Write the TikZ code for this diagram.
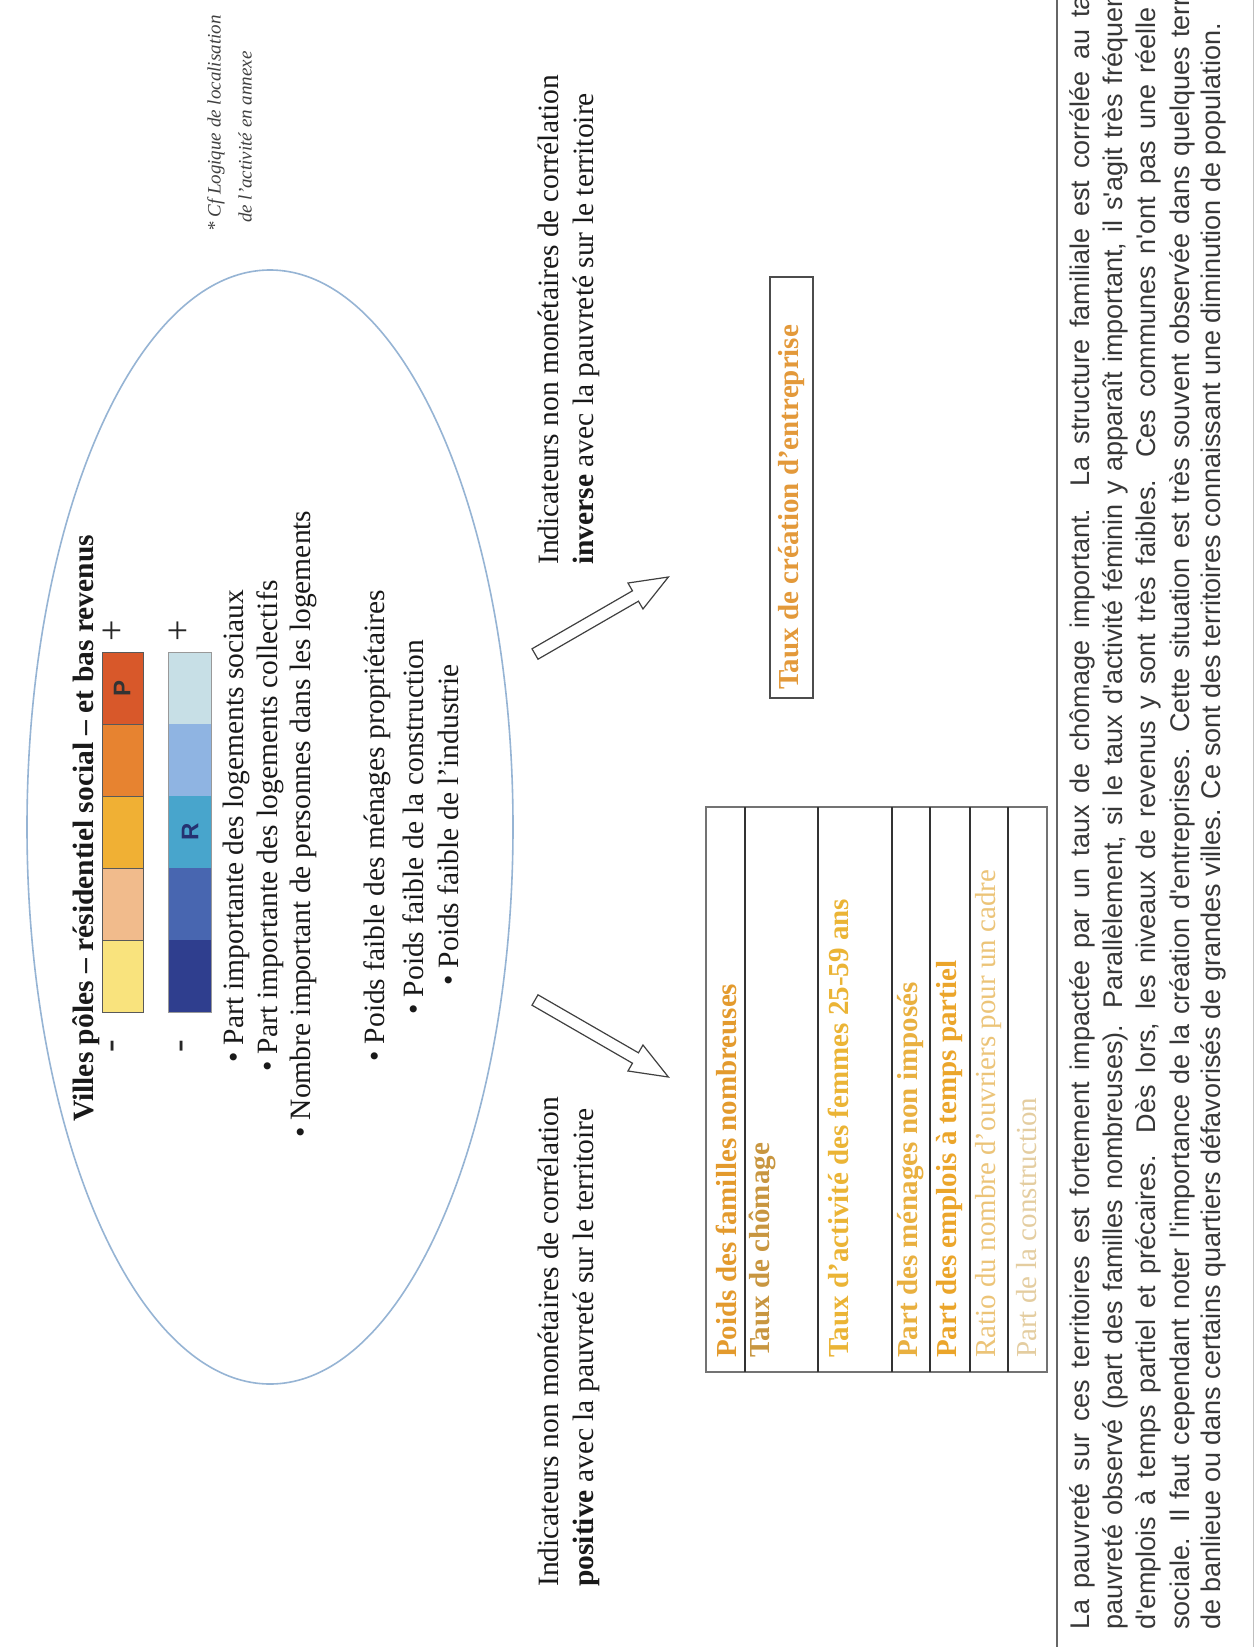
\documentclass[tikz,border=0pt]{standalone}
\usepackage{fontspec}
\setmainfont{Liberation Serif}
\newfontfamily\parafont{Liberation Sans}
\definecolor{ellc}{RGB}{150,180,212}
\definecolor{wa}{RGB}{249,227,125}
\definecolor{wb}{RGB}{241,187,140}
\definecolor{wc}{RGB}{240,176,52}
\definecolor{wd}{RGB}{231,131,48}
\definecolor{we}{RGB}{216,88,42}
\definecolor{ba}{RGB}{47,62,142}
\definecolor{bb}{RGB}{72,102,176}
\definecolor{bc}{RGB}{72,165,204}
\definecolor{bd}{RGB}{143,180,226}
\definecolor{be}{RGB}{199,223,230}
\definecolor{ta}{RGB}{227,154,45}
\definecolor{tb}{RGB}{200,150,64}
\definecolor{tc}{RGB}{235,180,53}
\definecolor{td}{RGB}{233,176,64}
\definecolor{te}{RGB}{235,165,42}
\definecolor{tf}{RGB}{236,196,120}
\definecolor{tg}{RGB}{228,205,160}
\definecolor{th}{RGB}{227,153,58}
\begin{document}
\begin{tikzpicture}[x=1pt,y=-1pt,
  rt/.style={rotate=90,inner sep=0pt,anchor=west},
  body/.style={font=\fontsize{29.5}{34}\selectfont,text=black!90},
  bodyb/.style={font=\bfseries\fontsize{29.5}{34}\selectfont,text=black!90},
  sign/.style={rotate=90,inner sep=0pt,anchor=center,font=\fontsize{38}{40}\selectfont,text=black!85},
  barcell/.style={draw=black!65,line width=0.8pt},
  letter/.style={rotate=90,inner sep=0pt,anchor=center,font=\parafont\bfseries\fontsize{24}{26}\selectfont},
  tbl/.style={rotate=90,inner sep=0pt,anchor=west,font=\bfseries\fontsize{29}{32}\selectfont},
  tblr/.style={rotate=90,inner sep=0pt,anchor=west,font=\fontsize{29}{32}\selectfont},
  para/.style={rotate=90,inner sep=0pt,anchor=west,font=\parafont\fontsize{27}{33}\selectfont,text=black!78},
  note/.style={rotate=90,inner sep=0pt,anchor=west,font=\itshape\fontsize{19}{23}\selectfont,text=black!75},
  hollow/.style={draw=black!75,line width=1.2pt,fill=white,line join=miter},
  sepline/.style={draw=black!80,line width=1.6pt},
  frame/.style={draw=black!55,line width=1.1pt}
]
\useasboundingbox (0,0) rectangle (1256,1647);
\clip (0,0) rectangle (1256,1647);
\fill[white] (0,0) rectangle (1256,1647);

% ellipse
\draw[ellc,line width=1.6pt] (270,827) ellipse [x radius=243, y radius=557];

% title
\node[rt,bodyb] (title) at (86,1122) {Villes pôles – résidentiel social – et bas revenus};

% colour bars
\path[barcell,fill=we] (102,652) rectangle (143,724);
\path[barcell,fill=wd] (102,724) rectangle (143,796);
\path[barcell,fill=wc] (102,796) rectangle (143,868);
\path[barcell,fill=wb] (102,868) rectangle (143,940);
\path[barcell,fill=wa] (102,940) rectangle (143,1012);
\path[draw=none,fill=be] (168,652) rectangle (211,724);
\path[draw=none,fill=bd] (168,724) rectangle (211,796);
\path[draw=none,fill=bc] (168,796) rectangle (211,868);
\path[draw=none,fill=bb] (168,868) rectangle (211,940);
\path[draw=none,fill=ba] (168,940) rectangle (211,1012);
\draw[black!40,line width=0.8pt] (168,652) rectangle (211,1012);
\node[letter,text=black!80] (P) at (122,688) {P};
\node[letter,text=ba!80!black] (R) at (190,832) {R};
\node[sign] (m1) at (116,1046) {-};
\node[sign] (p1s) at (114,631) {+};
\node[sign] (m2) at (185,1046) {-};
\node[sign] (p2s) at (180,631) {+};

% bullets
\node[rt,body] (l1) at (236,1063) {\textbullet\ Part importante des logements sociaux};
\node[rt,body] (l2) at (270,1072) {\textbullet\ Part importante des logements collectifs};
\node[rt,body] (l3) at (303,1138) {\textbullet\ Nombre important de personnes dans les logements};
\node[rt,body] (l4) at (377,1062) {\textbullet\ Poids faible des ménages propriétaires};
\node[rt,body] (l5) at (413,1015) {\textbullet\ Poids faible de la construction};
\node[rt,body] (l6) at (448,986) {\textbullet\ Poids faible de l'industrie};

% footnote
\node[note] (fn1) at (216,232) {* Cf Logique de localisation};
\node[note] (fn2) at (245,223) {de l'activité en annexe};

% labels
\node[rt,body] (inv1) at (548,565) {Indicateurs non monétaires de corrélation};
\node[rt,body] (inv2) at (586,565) {\textbf{inverse} avec la pauvreté sur le territoire};
\node[rt,body] (pos1) at (548,1587) {Indicateurs non monétaires de corrélation};
\node[rt,body] (pos2) at (586,1587) {\textbf{positive} avec la pauvreté sur le territoire};

% arrows
\coordinate (ua) at (535,654);
\coordinate (la) at (535,1000);
\begin{scope}[shift={(ua)},rotate=30]
\draw[hollow] (0,-6) -- (116,-6) -- (116,-15) -- (154,0) -- (116,15) -- (116,6) -- (0,6) -- cycle;
\end{scope}
\begin{scope}[shift={(la)},rotate=-30]
\draw[hollow] (0,-6) -- (116,-6) -- (116,-15) -- (154,0) -- (116,15) -- (116,6) -- (0,6) -- cycle;
\end{scope}

% creation box
\draw[draw=black!70,line width=1.3pt] (770,277) rectangle (813,698);
\node[tbl,text=th] (cre) at (792,690) {Taux de création d'entreprise};

% table
\draw[frame] (706,807) rectangle (1047,1372);
\foreach \xx in {745,818,892,930,970,1008} \draw[sepline] (\xx,807) -- (\xx,1372);
\node[tbl,text=ta] (r1) at (726,1358) {Poids des familles nombreuses};
\node[tbl,text=tb] (r2) at (762,1358) {Taux de chômage};
\node[tbl,text=tc] (r3) at (838,1358) {Taux d'activité des femmes 25-59 ans};
\node[tbl,text=td] (r4) at (911,1358) {Part des ménages non imposés};
\node[tbl,text=te] (r5) at (950,1358) {Part des emplois à temps partiel};
\node[tblr,text=tf] (r6) at (989,1358) {Ratio du nombre d'ouvriers pour un cadre};
\node[tblr,text=tg] (r7) at (1027,1358) {Part de la construction};

% paragraph
\draw[draw=black!25,line width=1pt] (1057,-10) rectangle (1253,1660);
\draw[draw=black!60,line width=1.8pt] (1057,-10) -- (1057,1660);
\node[para] (q1) at (1082,1630) {\makebox[1705pt][s]{La pauvreté sur ces territoires est fortement impactée par un taux de chômage important. La structure familiale est corrélée au taux de}};
\node[para] (q2) at (1115,1630) {\makebox[1705pt][s]{pauvreté observé (part des familles nombreuses). Parallèlement, si le taux d'activité féminin y apparaît important, il s'agit très fréquemment}};
\node[para] (q3) at (1148,1630) {\makebox[1705pt][s]{d'emplois à temps partiel et précaires. Dès lors, les niveaux de revenus y sont très faibles. Ces communes n'ont pas une réelle mixité}};
\node[para] (q4) at (1182,1630) {\makebox[1705pt][s]{sociale. Il faut cependant noter l'importance de la création d'entreprises. Cette situation est très souvent observée dans quelques territoires}};
\node[para] (q5) at (1213,1630) {de banlieue ou dans certains quartiers défavorisés de grandes villes. Ce sont des territoires connaissant une diminution de population.};
\end{tikzpicture}
\end{document}
